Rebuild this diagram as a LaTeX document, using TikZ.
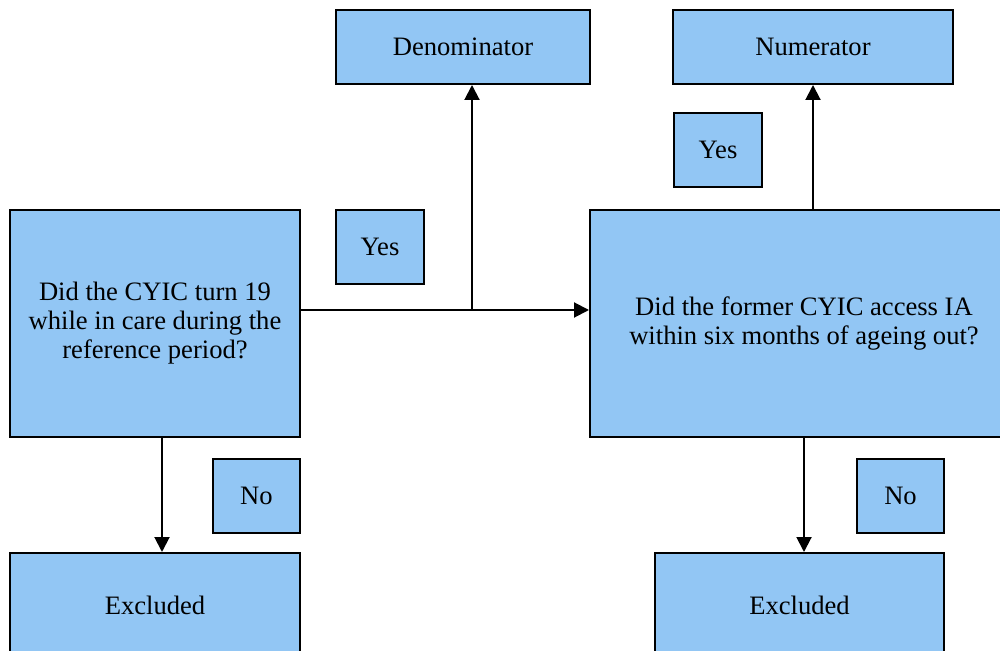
\documentclass[tikz,border=0pt]{standalone}
\usepackage{fontspec}
\setmainfont{Liberation Serif}
\usetikzlibrary{arrows.meta}
\definecolor{boxblue}{RGB}{146,198,244}

\begin{document}
\begin{tikzpicture}[x=.5pt, y=-.5pt, line width=1pt,
    box/.style={draw, fill=boxblue, inner sep=0pt, align=center,
        font=\fontsize{13.3}{14.5}\selectfont},
    arr/.style={-{Triangle[width=7.5pt,length=7.5pt]}}]
    \useasboundingbox(0, 0)rectangle(1000, 651);
    \clip(0, 0)rectangle(1000, 651);
    \node[box, minimum width=145pt, minimum height=113.5pt](q1) at (155, 323.5){Did the CYIC turn 19\\while in care during the\\reference period?};
    \node[box, minimum width=214pt, minimum height=113.5pt](q2) at (804, 323.5){Did the former CYIC access IA\\within six months of ageing out?};
    \node[box, minimum width=127pt, minimum height=37pt](den) at (463, 47){Denominator};
    \node[box, minimum width=140pt, minimum height=37pt](num) at (813, 47){Numerator};
    \node[box, minimum width=44pt, minimum height=37pt](yes1) at (380, 247){Yes};
    \node[box, minimum width=44pt, minimum height=37pt](yes2) at (718, 150){Yes};
    \node[box, minimum width=43.5pt, minimum height=37pt](no1) at (256.5, 496){No};
    \node[box, minimum width=43.5pt, minimum height=37pt](no2) at (900.5, 496){No};
    \node[box, minimum width=145pt, minimum height=52pt](ex1) at (155, 605){Excluded};
    \node[box, minimum width=144.5pt, minimum height=52pt](ex2) at (799.5, 605){Excluded};
    % yes branch
    \coordinate(fork) at (472, 310);
    \draw(q1.east |- fork)--(fork);
    \draw[arr](fork)--(fork -| q2.west);
    \draw[arr](fork)--(fork |- den.south);
    \draw[arr](q2.north -| num.south)--(num.south);
    % no branch
    \draw[arr]([xshift=3.5pt]q1.south)--([xshift=3.5pt]q1.south |- ex1.north);
    \draw[arr](q2.south)--(q2.south |- ex2.north);
\end{tikzpicture}
\end{document}
